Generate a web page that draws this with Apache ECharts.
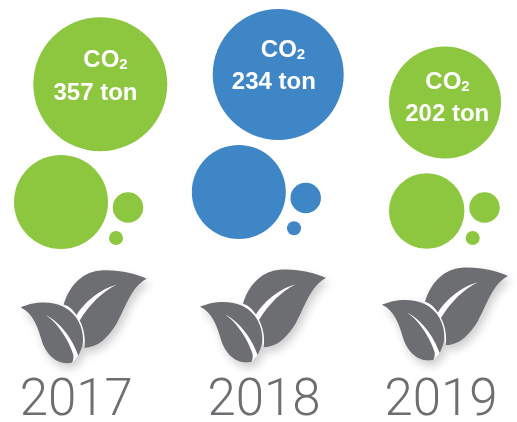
<!DOCTYPE html>
<html><head><meta charset="utf-8">
<style>html,body{margin:0;padding:0;background:#fff}#c{width:517px;height:422px}</style>
<script src="https://cdn.jsdelivr.net/npm/echarts@6/dist/echarts.min.js"></script>
</head><body><div id="c"></div>
<script>
const years = ['2017', '2018', '2019'];
const co2Tons = [357, 234, 202];
const yearGroup = [0, 1, 2];

// bubble centres and diameters: [main, second, small, tiny]
const bubbleX = [[100.3, 61, 128, 116], [278.2, 238.8, 305.7, 294], [445, 426.7, 484.5, 472.7]];
const bubbleY = [[84.2, 202, 207.5, 238], [74.5, 192, 198, 228.3], [102.5, 211, 207.5, 238]];
const bubbleD = [[134, 94, 30.5, 14], [131, 94, 30.5, 14], [112, 75.5, 30.5, 14]];
const leafX = [83.7, 263, 445];
const leafY = [316.7, 316, 314];
const yearX = [76.3, 264, 441];
const yearY = [402, 402, 402];
const co2LabelX = [105.5, 283, 447.5];
const co2LabelY = [60.5, 50.5, 82];
const tonLabelX = [95.5, 273.8, 447.2];
const tonLabelY = [93, 82.8, 114];

const GREEN = '#8dc63f', BLUE = '#3f86c7', GREY = '#6d6e71';
const groupColor = [GREEN, BLUE, GREEN];

const LEAF = 'path://M395 42C360 25 300 12 250 18C195 25 160 70 146 118C162 122 175 135 185 150C205 115 255 72 305 60C262 80 222 120 194 166C207 190 212 220 208 247C250 247 280 215 305 175C335 120 350 65 395 42Z' +
  'M17 127C50 112 105 105 145 125C185 145 205 185 204 225C203 245 196 258 190 270C174 225 138 170 85 146C122 165 160 220 175 268C176 278 174 285 171 291C125 300 92 265 80 225C68 185 55 145 17 127Z';
const LEAF_SILHOUETTE = 'path://M395 42C360 25 300 12 250 18C195 25 160 70 146 118L204 225L208 247C250 247 280 215 305 175C335 120 350 65 395 42Z' +
  'M17 127C50 112 105 105 145 125C185 145 205 185 204 225C203 245 196 258 190 270L171 291C125 300 92 265 80 225C68 185 55 145 17 127Z';

const bubbles = [];
yearGroup.forEach(g => bubbleX[g].forEach((x, i) => {
  bubbles.push({ value: [x, bubbleY[g][i]], symbolSize: bubbleD[g][i], itemStyle: { color: groupColor[g], opacity: 1 } });
}));

const invisible = { color: 'rgba(0,0,0,0)', opacity: 1 };
const whiteLabel = { show: true, position: 'inside', color: '#fff', fontFamily: 'Liberation Sans', fontWeight: 'bold', fontSize: 24 };
const leafPoints = leafX.map((x, i) => [x, leafY[i]]);

const chart = echarts.init(document.getElementById('c'), null, { renderer: 'canvas' });
chart.setOption({
  animation: false,
  backgroundColor: '#fff',
  grid: { left: 0, right: 0, top: 0, bottom: 0 },
  xAxis: { type: 'value', min: 0, max: 517, show: false },
  yAxis: { type: 'value', min: 0, max: 422, inverse: true, show: false },
  tooltip: { show: false },
  series: [
    { type: 'scatter', silent: true, data: bubbles },
    {
      type: 'scatter', silent: true, symbol: LEAF_SILHOUETTE, symbolSize: [126, 93],
      itemStyle: { color: '#fff', opacity: 1, shadowBlur: 10, shadowOffsetX: 3, shadowOffsetY: 5, shadowColor: 'rgba(0,0,0,0.2)' },
      data: leafPoints
    },
    {
      type: 'scatter', silent: true, symbol: LEAF, symbolSize: [126, 93],
      itemStyle: { color: GREY, opacity: 1 },
      data: leafPoints
    },
    {
      type: 'scatter', silent: true, symbolSize: 1, itemStyle: invisible,
      label: { show: true, position: 'inside', color: GREY, fontFamily: 'Roboto', fontWeight: 300, fontSize: 51, formatter: p => p.data[2] },
      data: yearX.map((x, i) => [x, yearY[i], years[i]])
    },
    {
      type: 'scatter', silent: true, symbolSize: 1, itemStyle: invisible,
      label: Object.assign({}, whiteLabel, {
        formatter: '{co|CO}{sub|2}',
        rich: {
          co: { color: '#fff', fontFamily: 'Liberation Sans', fontWeight: 'bold', fontSize: 24 },
          sub: { color: '#fff', fontFamily: 'Liberation Sans', fontWeight: 'bold', fontSize: 15, verticalAlign: 'bottom', padding: [5, 0, 0, 0] }
        }
      }),
      data: co2LabelX.map((x, i) => [x, co2LabelY[i]])
    },
    {
      type: 'scatter', silent: true, symbolSize: 1, itemStyle: invisible,
      label: Object.assign({}, whiteLabel, { formatter: p => p.data[2] + ' ton' }),
      data: tonLabelX.map((x, i) => [x, tonLabelY[i], co2Tons[i]])
    }
  ]
});
</script></body></html>
